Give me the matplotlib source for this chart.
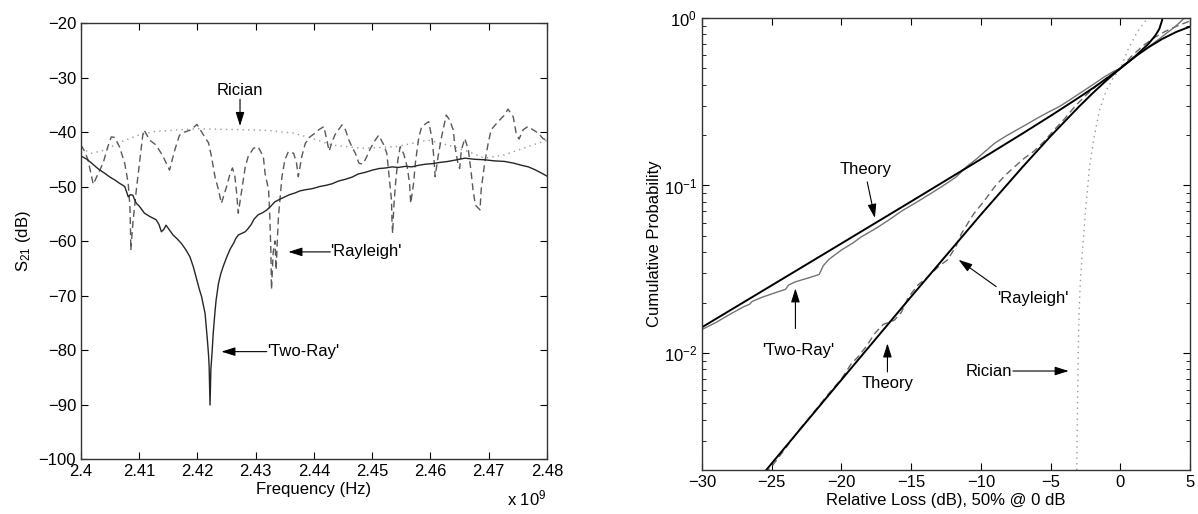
import numpy as np
import matplotlib
matplotlib.use('Agg')
import matplotlib.pyplot as plt
from matplotlib.ticker import LogLocator, LogFormatterMathtext, NullFormatter

plt.rcParams['font.family'] = ['Liberation Sans', 'DejaVu Sans']
plt.rcParams['font.size'] = 12
plt.rcParams['mathtext.fontset'] = 'custom'
plt.rcParams['mathtext.rm'] = 'Liberation Sans'
plt.rcParams['mathtext.it'] = 'Liberation Sans:italic'
plt.rcParams['mathtext.bf'] = 'Liberation Sans:bold'

# ---- left panel: S21 vs frequency (GHz, shown with x 10^9) ----
tworay_f = [2.4000, 2.4010, 2.4018, 2.4030, 2.4041, 2.4050, 2.4058, 2.4066, 2.4075, 2.4079,
            2.4081, 2.4085, 2.4089, 2.4092, 2.4095, 2.4100, 2.4109, 2.4118, 2.4129, 2.4134,
            2.4138, 2.4142, 2.4146, 2.4152, 2.4158, 2.4165, 2.4172, 2.4180, 2.4187, 2.4193,
            2.4199, 2.4203, 2.4207, 2.4213, 2.4217, 2.4219, 2.4220, 2.42215, 2.4223, 2.4225,
            2.4227, 2.4230, 2.4232, 2.4236, 2.4240, 2.4244, 2.4250, 2.4256, 2.4262, 2.4266,
            2.4270, 2.4276, 2.4282, 2.4287, 2.4292, 2.4297, 2.4304, 2.4312, 2.4319, 2.4326,
            2.4333, 2.4342, 2.4350, 2.4358, 2.4367, 2.4376, 2.4385, 2.4397, 2.4410, 2.4420,
            2.4431, 2.4442, 2.4453, 2.4465, 2.4476, 2.4488, 2.4500, 2.4512, 2.4523, 2.4534,
            2.4545, 2.4557, 2.4568, 2.4580, 2.4592, 2.4604, 2.4615, 2.4630, 2.4645, 2.4659,
            2.4675, 2.4693, 2.4710, 2.4727, 2.4742, 2.4756, 2.4768, 2.4779, 2.4790, 2.4800]
tworay_db = [-44.4, -45.0, -45.7, -46.8, -47.6, -48.3, -48.8, -49.4, -50.0, -51.2,
             -51.9, -51.5, -51.6, -52.4, -53.1, -53.6, -54.9, -55.5, -56.1, -57.0,
             -58.3, -57.9, -57.1, -58.0, -58.9, -59.6, -60.4, -61.6, -62.9, -64.8,
             -67.2, -68.8, -70.2, -73.3, -78.2, -81.0, -83.1, -90.1, -83.5, -80.5,
             -76.9, -73.0, -70.8, -67.8, -66.0, -64.7, -63.0, -61.5, -60.4, -59.5,
             -58.9, -58.6, -58.3, -57.7, -57.0, -56.0, -55.2, -54.8, -54.3, -53.6,
             -52.8, -52.3, -51.9, -51.5, -51.2, -50.8, -50.6, -50.4, -50.0, -49.8,
             -49.5, -49.0, -48.7, -48.3, -47.7, -47.4, -47.0, -46.7, -46.6, -46.4,
             -46.5, -46.3, -46.4, -46.1, -45.9, -45.8, -45.6, -45.4, -45.1, -44.8,
             -45.0, -45.1, -45.3, -45.4, -45.7, -46.1, -46.4, -46.9, -47.5, -48.1]

rayl_f = [2.4000, 2.4006, 2.4012, 2.4021, 2.4030, 2.4038, 2.4046, 2.4052, 2.4058, 2.4066,
          2.4075, 2.4081, 2.4084, 2.4085, 2.40855, 2.4089, 2.4095, 2.4101, 2.4106, 2.4108,
          2.4118, 2.4129, 2.4141, 2.4152, 2.4161, 2.4169, 2.4178, 2.4189, 2.4199, 2.4210,
          2.4219, 2.4224, 2.4230, 2.4236, 2.4241, 2.4250, 2.4256, 2.4260, 2.4264, 2.4267,
          2.4270, 2.4276, 2.4282, 2.4287, 2.4296, 2.4304, 2.4313, 2.4316, 2.4322, 2.4324,
          2.4326, 2.4327, 2.4330, 2.4333, 2.4335, 2.4337, 2.4339, 2.4345, 2.4350, 2.4356,
          2.4365, 2.4370, 2.4373, 2.4379, 2.4385, 2.4393, 2.4402, 2.4408, 2.4417, 2.4422,
          2.4426, 2.4431, 2.4436, 2.4442, 2.4448, 2.4454, 2.4460, 2.4465, 2.4471, 2.4477,
          2.4483, 2.4488, 2.4497, 2.4505, 2.4511, 2.4520, 2.4525, 2.4529, 2.4533, 2.4534,
          2.4535, 2.4537, 2.4540, 2.4544, 2.4548, 2.4554, 2.4560, 2.4564, 2.4566, 2.4571,
          2.4574, 2.4580, 2.4585, 2.4597, 2.4603, 2.4606, 2.4608, 2.4613, 2.4619, 2.4627,
          2.4633, 2.4639, 2.4642, 2.4647, 2.4650, 2.4653, 2.4659, 2.4665, 2.4670, 2.4673,
          2.4677, 2.4685, 2.4687, 2.4693, 2.4699, 2.4704, 2.4716, 2.4727, 2.4733, 2.4742,
          2.4747, 2.4752, 2.4759, 2.4767, 2.4776, 2.4785, 2.4793, 2.4800]
rayl_db = [-42.4, -43.5, -45.1, -49.6, -47.5, -45.7, -42.7, -40.9, -41.0, -42.7,
           -45.7, -49.4, -53.7, -58.0, -61.7, -56.8, -50.6, -45.1, -40.6, -39.6,
           -41.5, -42.4, -44.5, -47.0, -43.3, -40.6, -40.0, -39.6, -38.6, -40.5,
           -42.0, -44.5, -48.2, -50.6, -53.1, -50.0, -47.6, -46.6, -48.0, -51.0,
           -54.9, -50.6, -46.4, -44.5, -43.0, -42.7, -44.5, -47.6, -50.6, -55.0,
           -62.0, -68.9, -62.0, -60.0, -65.3, -60.0, -55.5, -48.2, -45.1, -43.6,
           -43.9, -45.7, -48.2, -44.5, -42.1, -40.9, -40.2, -39.6, -39.0, -41.5,
           -43.5, -41.8, -40.5, -39.6, -38.7, -39.6, -41.5, -42.7, -43.9, -45.7,
           -45.9, -45.1, -43.0, -41.5, -40.6, -42.4, -43.9, -48.2, -52.5, -56.8,
           -58.6, -53.7, -49.4, -45.1, -42.7, -44.0, -46.4, -49.4, -53.1, -49.4,
           -45.7, -40.9, -39.0, -38.1, -41.5, -45.0, -48.2, -44.5, -40.9, -36.9,
           -37.8, -39.6, -42.7, -45.7, -46.7, -43.3, -41.2, -43.3, -47.6, -50.6,
           -53.4, -54.3, -50.6, -45.7, -42.1, -39.6, -38.1, -36.9, -35.8, -37.2,
           -40.2, -41.3, -39.6, -39.0, -39.6, -40.2, -41.2, -41.5]

rician_f = [2.4000, 2.4018, 2.4041, 2.4069, 2.4098, 2.4127, 2.4167, 2.4201, 2.4240, 2.4280,
            2.4320, 2.4364, 2.4398, 2.4431, 2.4482, 2.4540, 2.4596, 2.4630, 2.4665, 2.4693,
            2.4727, 2.4767, 2.4800]
rician_db = [-43.0, -43.9, -43.3, -41.8, -40.6, -39.9, -39.6, -39.4, -39.5, -39.6,
             -39.7, -40.2, -41.2, -42.4, -43.0, -42.7, -41.5, -42.4, -43.6, -44.8,
             -44.2, -42.7, -41.5]

# ---- right panel: CDFs vs relative loss (dB) ----
th2_x = [-30, -25, -20, -15, -10, -7, -5, -3, -2, -1, 0, 1, 2, 2.5, 2.8, 3.0, 3.01]
th2_p = [0.01424, 0.02532, 0.04505, 0.08026, 0.14356, 0.20457, 0.26033, 0.33377, 0.37961,
         0.43413, 0.5, 0.58372, 0.69831, 0.78336, 0.86066, 0.9691, 1.0]

thr_x = [-25.5, -25, -20, -15, -10, -7, -5, -3, -2, -1, 0, 1, 2, 3, 4, 5]
thr_p = [0.00195, 0.00219, 0.00691, 0.02168, 0.06697, 0.12916, 0.19686, 0.29349, 0.35424,
         0.42341, 0.5, 0.58213, 0.66664, 0.74918, 0.82466, 0.8883]

meas2_x = [-30.0, -29.0, -28.0, -27.0, -26.6, -26.4, -25.7, -24.6, -24.0, -23.8, -23.3, -22.4,
           -21.6, -21.3, -20.9, -20.0, -19.2, -18.6, -17.5, -16.5, -15.7, -14.6, -13.5, -12.6,
           -11.8, -11.0, -10.4, -9.5, -9.0, -8.3, -7.5, -6.7, -6.0, -5.2, -4.4, -3.6, -2.8,
           -2.0, -1.2, -0.5, 0.0, 0.6, 1.2, 1.8, 2.3, 2.8, 3.3, 3.8, 4.2, 4.6]
meas2_p = [0.0138, 0.0152, 0.0170, 0.0189, 0.0195, 0.0203, 0.0215, 0.0231, 0.0240, 0.0254,
           0.0266, 0.0280, 0.0294, 0.0332, 0.0362, 0.0412, 0.0452, 0.0492, 0.0556, 0.0630,
           0.0702, 0.0795, 0.0905, 0.1010, 0.1120, 0.1300, 0.1420, 0.1650, 0.1790, 0.1950,
           0.2130, 0.2320, 0.2510, 0.2730, 0.2950, 0.3250, 0.3600, 0.3980, 0.4420, 0.4790,
           0.5000, 0.5450, 0.6000, 0.6500, 0.7000, 0.7500, 0.8100, 0.8700, 0.9300, 1.0]

measr_x = [-25.5, -25.0, -24.0, -23.0, -22.1, -21.0, -20.0, -19.3, -18.8, -18.2, -17.6, -17.0,
           -16.2, -15.7, -15.2, -14.5, -13.8, -13.0, -12.4, -11.8, -11.4, -10.5, -9.8, -9.0,
           -8.3, -7.6, -6.9, -6.2, -5.5, -4.8, -4.0, -3.2, -2.4, -1.6, -0.8, 0.0, 0.8, 1.6,
           2.4, 3.2, 4.0, 5.0]
measr_p = [0.0019, 0.0021, 0.0027, 0.0035, 0.0043, 0.0056, 0.0070, 0.0086, 0.0095, 0.0110,
           0.0131, 0.0148, 0.0157, 0.0175, 0.0215, 0.0255, 0.0285, 0.0330, 0.0359, 0.0430,
           0.0515, 0.0680, 0.0800, 0.0985, 0.114, 0.129, 0.145, 0.160, 0.182, 0.212, 0.250,
           0.300, 0.350, 0.400, 0.450, 0.500, 0.590, 0.680, 0.760, 0.830, 0.890, 0.960]

ric_x = [-3.12, -3.08, -3.04, -3.0, -2.95, -2.85, -2.7, -2.5, -2.2, -1.9, -1.5, -1.0, -0.5,
         0.0, 0.6, 1.2, 1.8, 2.1]
ric_p = [0.002, 0.004, 0.007, 0.012, 0.018, 0.028, 0.042, 0.07, 0.13, 0.19, 0.28, 0.37, 0.44,
         0.50, 0.66, 0.82, 0.96, 1.0]

fig = plt.figure(figsize=(11.98, 5.14), dpi=100)
ax1 = fig.add_axes([81 / 1198, 55 / 514, 466 / 1198, 436 / 514])
ax2 = fig.add_axes([702 / 1198, 44 / 514, 488 / 1198, 452 / 514])

dash = (0, (5, 3))
ax1.plot(rician_f, rician_db, color='0.6', lw=1.0, linestyle=(0, (1, 3)))
ax1.plot(rayl_f, rayl_db, color='0.35', lw=1.0, linestyle=dash)
ax1.plot(tworay_f, tworay_db, color='0.15', lw=1.0)

ax1.set_xlim(2.40, 2.48)
ax1.set_ylim(-100, -20)
ax1.set_xticks(np.arange(2.40, 2.4801, 0.01))
ax1.set_xticklabels(['2.4', '2.41', '2.42', '2.43', '2.44', '2.45', '2.46', '2.47', '2.48'])
ax1.set_yticks(np.arange(-100, -19, 10))
ax1.set_xlabel('Frequency (Hz)', labelpad=2)
ax1.set_ylabel('S$_{21}$ (dB)', labelpad=4)
ax1.text(0.957, -0.09, 'x 10$^9$', transform=ax1.transAxes, ha='center', va='center')

arrow = dict(arrowstyle='-|>,head_length=0.7,head_width=0.22', color='k', lw=0.8,
             shrinkA=0, shrinkB=0)
ax1.text(2.4273, -32.3, 'Rician', ha='center', va='center')
ax1.annotate('', xy=(2.4273, -38.9), xytext=(2.4273, -34.0), arrowprops=arrow)
ax1.text(2.4428, -62.0, "'Rayleigh'", ha='left', va='center')
ax1.annotate('', xy=(2.4356, -62.0), xytext=(2.4428, -62.0), arrowprops=arrow)
ax1.text(2.4319, -80.3, "'Two-Ray'", ha='left', va='center')
ax1.annotate('', xy=(2.4241, -80.3), xytext=(2.4319, -80.3), arrowprops=arrow)

ax2.plot(ric_x, ric_p, color='0.6', lw=1.0, linestyle=(0, (1, 3)))
ax2.plot(measr_x, measr_p, color='0.4', lw=1.0, linestyle=dash)
ax2.plot(meas2_x, meas2_p, color='0.45', lw=1.0)
ax2.plot(th2_x, th2_p, color='k', lw=1.4)
ax2.plot(thr_x, thr_p, color='k', lw=1.4)

ax2.set_yscale('log')
ax2.set_xlim(-30, 5)
ax2.set_ylim(0.002, 1)
ax2.set_xticks(np.arange(-30, 6, 5))
ax2.yaxis.set_major_locator(LogLocator(base=10, numticks=10))
ax2.yaxis.set_major_formatter(LogFormatterMathtext())
ax2.yaxis.set_minor_locator(LogLocator(base=10, subs=np.arange(2, 10), numticks=20))
ax2.yaxis.set_minor_formatter(NullFormatter())
ax2.set_xlabel('Relative Loss (dB), 50% @ 0 dB', labelpad=2)
ax2.set_ylabel('Cumulative Probability', labelpad=1)

ax2.text(-18.3, 0.124, 'Theory', ha='center', va='center')
ax2.annotate('', xy=(-17.6, 0.064), xytext=(-18.15, 0.105), arrowprops=arrow)
ax2.text(-23.1, 0.0104, "'Two-Ray'", ha='center', va='center')
ax2.annotate('', xy=(-23.3, 0.0243), xytext=(-23.3, 0.014), arrowprops=arrow)
ax2.text(-16.7, 0.0066, 'Theory', ha='center', va='center')
ax2.annotate('', xy=(-16.7, 0.0114), xytext=(-16.7, 0.0077), arrowprops=arrow)
ax2.text(-8.8, 0.0212, "'Rayleigh'", ha='left', va='center')
ax2.annotate('', xy=(-11.6, 0.036), xytext=(-8.9, 0.0249), arrowprops=arrow)
ax2.text(-11.1, 0.0078, 'Rician', ha='left', va='center')
ax2.annotate('', xy=(-3.7, 0.0078), xytext=(-7.7, 0.0078), arrowprops=arrow)

for ax in (ax1, ax2):
    ax.tick_params(which='both', direction='in', top=True, right=True)
    ax.tick_params(which='major', length=5, width=0.8)
    ax.tick_params(which='minor', length=3, width=0.6)
    for s in ax.spines.values():
        s.set_linewidth(1.0)
        s.set_color('0.2')

fig.savefig('out.png', dpi=100)
